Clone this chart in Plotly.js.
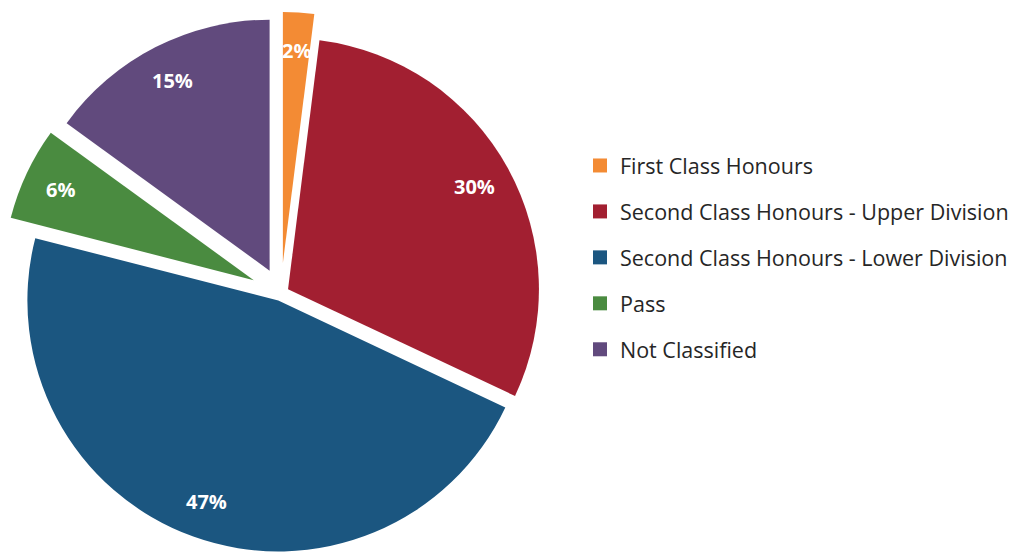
<!DOCTYPE html>
<html>
<head>
<meta charset="utf-8">
<script src="https://cdn.plot.ly/plotly-3.0.1.min.js"></script>
<style>
  html, body { margin: 0; padding: 0; overflow: hidden; background: #ffffff; }
  #chart { width: 1019px; height: 600px; }
</style>
</head>
<body>
<div id="chart"></div>
<script>
const categories = [
  "First Class Honours",
  "Second Class Honours - Upper Division",
  "Second Class Honours - Lower Division",
  "Pass",
  "Not Classified"
];
const shares = [2, 30, 47, 6, 15];
const colors = ["#F38B34", "#A21F31", "#1B5680", "#4A8B40", "#614A7D"];
const pulls = [0.12, 0.032, 0.032, 0.12, 0.10];

// figure geometry (pixels)
const W = 1019, H = 600, MT = 12, MB = 26;
const PH = H - MT - MB;          // plot-area height
const boxW = PH;                 // square pie box
const domainX = [0, boxW / W];

const pie = {
  type: "pie",
  labels: categories,
  values: shares,
  sort: false,
  direction: "clockwise",
  rotation: 0,
  pull: pulls,
  marker: { colors: colors, line: { width: 0 } },
  textinfo: "none",
  showlegend: false,
  hoverinfo: "label+percent",
  domain: { x: domainX, y: [0, 1] }
};

// percentage labels placed along each slice's bisector (derived from the values)
const total = shares.reduce((a, b) => a + b, 0);
const maxPull = Math.max.apply(null, pulls);
const R = (boxW / 2) / (1 + maxPull);
const cxPx = boxW / 2, cyPx = PH / 2;
let cum = 0;
const annotations = shares.map((v, i) => {
  const mid = (cum + v / 2) / total;
  cum += v;
  const th = 2 * Math.PI * mid;
  const rr = (pulls[i] + 0.85) * R;
  const px = cxPx + rr * Math.sin(th);
  const py = cyPx - rr * Math.cos(th);
  return {
    xref: "paper", yref: "paper",
    x: px / W, y: 1 - py / PH,
    xanchor: "center", yanchor: "middle",
    showarrow: false,
    text: Math.round(v / total * 100) + "%",
    font: { family: "'Open Sans', Lato, sans-serif", size: 20, color: "#ffffff", weight: "bold" }
  };
});

const legendTraces = categories.map((name, i) => ({
  type: "scatter",
  mode: "markers",
  x: [null],
  y: [null],
  name: name,
  legendgroup: "g" + i,
  marker: { symbol: "square", size: 14, color: colors[i] },
  hoverinfo: "skip"
}));

const layout = {
  width: W,
  height: H,
  margin: { l: 0, r: 0, t: MT, b: MB },
  paper_bgcolor: "#ffffff",
  plot_bgcolor: "#ffffff",
  xaxis: { visible: false },
  yaxis: { visible: false },
  showlegend: true,
  annotations: annotations,
  legend: {
    x: 580 / W,
    xanchor: "left",
    y: 1 - 133 / PH,
    yanchor: "top",
    tracegroupgap: 15,
    font: { family: "'Open Sans', sans-serif", size: 21.5, color: "#262626" },
    bgcolor: "rgba(0,0,0,0)"
  }
};

Plotly.newPlot("chart", [pie].concat(legendTraces), layout, { displayModeBar: false, staticPlot: true });
</script>
</body>
</html>
